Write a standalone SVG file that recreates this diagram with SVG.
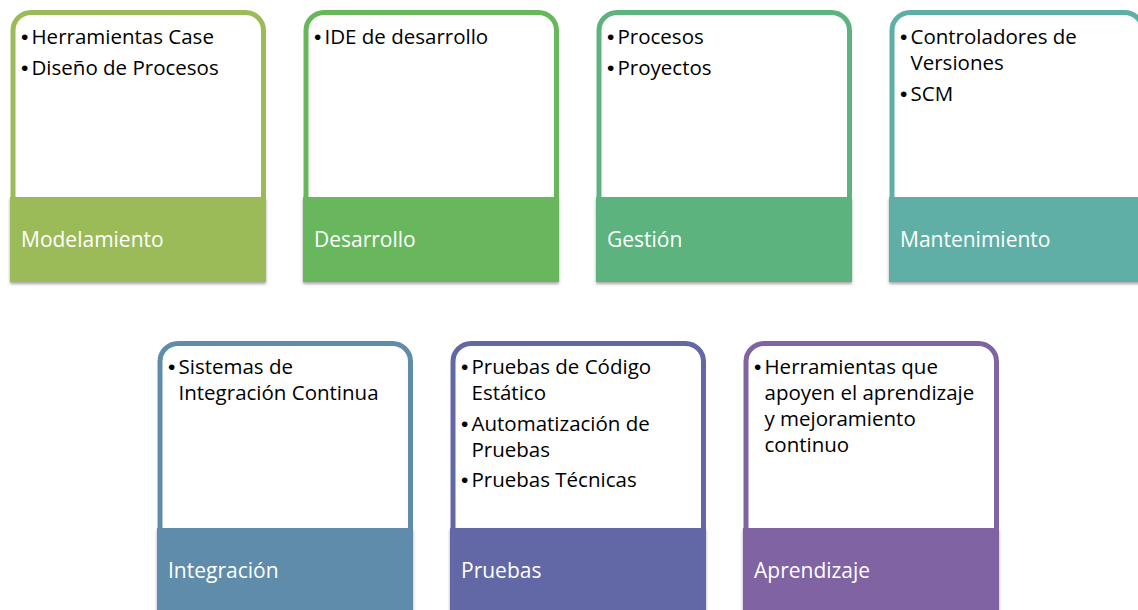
<svg xmlns="http://www.w3.org/2000/svg" xmlns:xlink="http://www.w3.org/1999/xlink" width="1138" height="610" viewBox="0 0 1138 610">
<defs>
<filter id="sh" x="-5%" y="-10%" width="110%" height="125%">
<feDropShadow dx="0" dy="2" stdDeviation="1.6" flood-color="#000" flood-opacity="0.35"/>
</filter>
<path id="ol" d="M3 190 V20.5 A18 18 0 0 1 21 2.5 H235.5 A18 18 0 0 1 253.5 20.5 V190"/>
</defs>
<style>
.o{fill:#fff;stroke-width:5}
.lb{filter:url(#sh)}
.t{font-family:"Open Sans","Liberation Sans",sans-serif;font-size:20.5px;fill:#000}
.b{font-family:"Liberation Sans",sans-serif;font-size:21px;fill:#000}
.l{font-family:"Open Sans","Liberation Sans",sans-serif;font-size:21px;fill:#fff}
</style>
<rect width="1138" height="610" fill="#fff"/>
<g id="connectors"></g>

<g id="modelamiento">
<use class="o" href="#ol" xlink:href="#ol" x="10" y="10" stroke="#9BBB59"/>
<rect class="lb" x="10" y="197" width="256" height="85" fill="#9BBB59"/>
<text class="b" x="21" y="44">•</text><text class="t" x="31.5" y="44">Herramientas Case</text>
<text class="b" x="21" y="74.5">•</text><text class="t" x="31.5" y="74.5">Diseño de Procesos</text>
<text class="l" x="21" y="246.5">Modelamiento</text>
</g>

<g id="desarrollo">
<use class="o" href="#ol" xlink:href="#ol" x="303" y="10" stroke="#68B75B"/>
<rect class="lb" x="303" y="197" width="256" height="85" fill="#68B75B"/>
<text class="b" x="314" y="44">•</text><text class="t" x="324.5" y="44">IDE de desarrollo</text>
<text class="l" x="314" y="246.5">Desarrollo</text>
</g>

<g id="gestion">
<use class="o" href="#ol" xlink:href="#ol" x="596" y="10" stroke="#5CB37D"/>
<rect class="lb" x="596" y="197" width="256" height="85" fill="#5CB37D"/>
<text class="b" x="607" y="44">•</text><text class="t" x="617.5" y="44">Procesos</text>
<text class="b" x="607" y="74.5">•</text><text class="t" x="617.5" y="74.5">Proyectos</text>
<text class="l" x="607" y="246.5">Gestión</text>
</g>

<g id="mantenimiento">
<use class="o" href="#ol" xlink:href="#ol" x="889" y="10" stroke="#5EAFA6"/>
<rect class="lb" x="889" y="197" width="256" height="85" fill="#5EAFA6"/>
<text class="b" x="900" y="44">•</text><text class="t" x="910.5" y="44">Controladores de</text>
<text class="t" x="910.5" y="70">Versiones</text>
<text class="b" x="900" y="100.5">•</text><text class="t" x="910.5" y="100.5">SCM</text>
<text class="l" x="900" y="246.5">Mantenimiento</text>
</g>

<g id="integracion">
<use class="o" href="#ol" xlink:href="#ol" x="157" y="341" stroke="#608CAB"/>
<rect class="lb" x="157" y="528" width="256" height="85" fill="#608CAB"/>
<text class="b" x="168" y="374">•</text><text class="t" x="178.5" y="374">Sistemas de</text>
<text class="t" x="178.5" y="400">Integración Continua</text>
<text class="l" x="168" y="577.5">Integración</text>
</g>

<g id="pruebas">
<use class="o" href="#ol" xlink:href="#ol" x="450" y="341" stroke="#6267A6"/>
<rect class="lb" x="450" y="528" width="256" height="85" fill="#6267A6"/>
<text class="b" x="461" y="374">•</text><text class="t" x="471.5" y="374">Pruebas de Código</text>
<text class="t" x="471.5" y="400">Estático</text>
<text class="b" x="461" y="430.5">•</text><text class="t" x="471.5" y="430.5">Automatización de</text>
<text class="t" x="471.5" y="456.5">Pruebas</text>
<text class="b" x="461" y="487">•</text><text class="t" x="471.5" y="487">Pruebas Técnicas</text>
<text class="l" x="461" y="577.5">Pruebas</text>
</g>

<g id="aprendizaje">
<use class="o" href="#ol" xlink:href="#ol" x="743" y="341" stroke="#8064A2"/>
<rect class="lb" x="743" y="528" width="256" height="85" fill="#8064A2"/>
<text class="b" x="754" y="374">•</text><text class="t" x="764.5" y="374">Herramientas que</text>
<text class="t" x="764.5" y="400">apoyen el aprendizaje</text>
<text class="t" x="764.5" y="426">y mejoramiento</text>
<text class="t" x="764.5" y="452">continuo</text>
<text class="l" x="754" y="577.5">Aprendizaje</text>
</g>
</svg>
